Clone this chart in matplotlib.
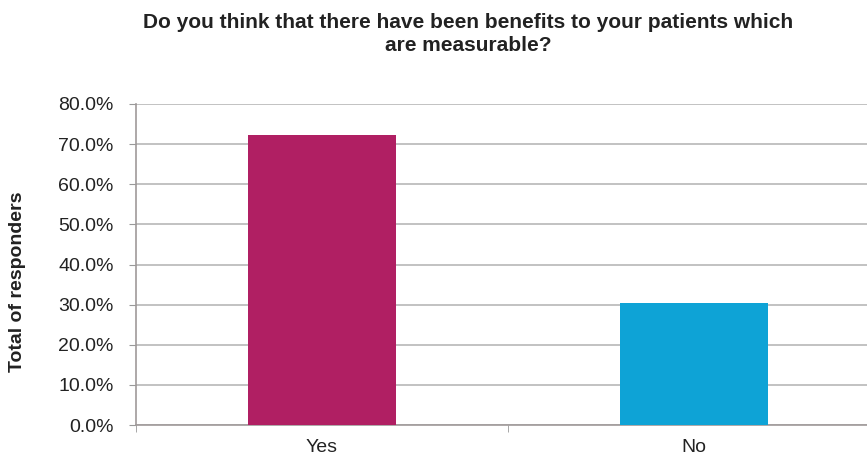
import matplotlib
matplotlib.use("Agg")
import matplotlib.pyplot as plt
from matplotlib.ticker import FuncFormatter, MultipleLocator, FixedLocator

categories = ["Yes", "No"]
values = [72.2, 30.3]
colors = ["#B01F63", "#0EA3D6"]
title = "Do you think that there have been benefits to your patients which\nare measurable?"
ylabel = "Total of responders"

plt.rcParams['font.family'] = ['Liberation Sans', 'DejaVu Sans']

fig = plt.figure(figsize=(8.67, 4.59), dpi=100)
ax = fig.add_axes([136/867, 1-425/459, (880-136)/867, (425-104)/459])

x = list(range(len(categories)))
ax.bar(x, values, width=0.4, color=colors, zorder=3)

ax.set_xlim(-0.5, len(categories) - 0.5)
ax.set_ylim(0, 80)
ax.yaxis.set_major_locator(MultipleLocator(10))
ax.yaxis.set_major_formatter(FuncFormatter(lambda v, p: f"{v:.1f}%"))
ax.grid(axis='y', color='#BDBDBD', linewidth=1.3, zorder=0)

ax.set_xticks(x)
ax.set_xticklabels(categories)
ax.xaxis.set_minor_locator(FixedLocator([-0.5, 0.5, 1.5]))
ax.tick_params(axis='x', which='major', length=0, pad=10, labelsize=14, labelcolor='#222222')
ax.tick_params(axis='x', which='minor', length=5, color='#999999', direction='out')
ax.tick_params(axis='y', length=5, color='#999999', labelsize=14, labelcolor='#222222', pad=11)

for s in ['top', 'right']:
    ax.spines[s].set_visible(False)
for s in ['left', 'bottom']:
    ax.spines[s].set_color('#A09A9A')
    ax.spines[s].set_linewidth(1.2)

fig.text(468/867, 1-34/459, title, ha='center', va='center', fontsize=15,
         fontweight='bold', color='#222222', linespacing=1.25)
fig.text(18/867, 1-282/459, ylabel, ha='center', va='center', rotation=90,
         fontsize=14, fontweight='bold', color='#222222')

fig.savefig("out.png", dpi=100)
